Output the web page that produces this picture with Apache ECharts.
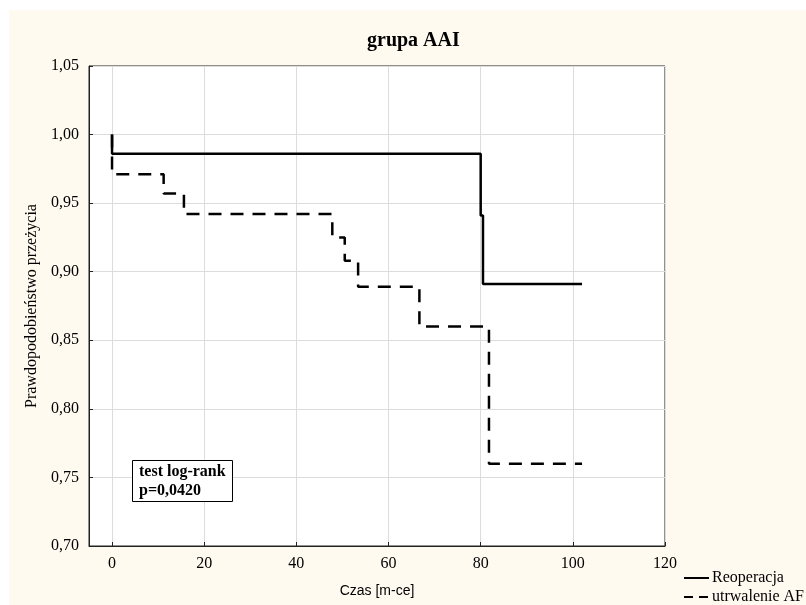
<!DOCTYPE html>
<html>
<head>
<meta charset="utf-8">
<script src="https://cdn.jsdelivr.net/npm/echarts@6/dist/echarts.min.js"></script>
<style>
  html, body { margin: 0; padding: 0; background: #ffffff; }
  #bg { position: absolute; left: 9px; top: 10px; width: 797px; height: 595px; background: #fffaf0; }
  #chart { position: absolute; left: 0; top: 0; width: 806px; height: 605px; }
</style>
</head>
<body>
<div id="bg"></div>
<div id="chart"></div>
<script>
// Data (Kaplan-Meier step curves)
const titleText = 'grupa AAI';
const xName = 'Czas [m-ce]';
const yName = 'Prawdopodobieństwo przeżycia';
const seriesNames = ['Reoperacja', 'utrwalenie AF'];
const reopTime = [0, 0, 80, 80.5, 102];
const reopSurv = [1.0, 0.986, 0.941, 0.891, 0.891];
const afTime = [0, 0, 11.2, 15.6, 47.8, 50.5, 53.4, 66.7, 81.8, 102];
const afSurv = [1.0, 0.971, 0.957, 0.942, 0.925, 0.908, 0.889, 0.860, 0.760, 0.760];
const xTicks = [0, 20, 40, 60, 80, 100, 120];
const yTicks = [0.70, 0.75, 0.80, 0.85, 0.90, 0.95, 1.00, 1.05];
const noteText = 'test log-rank\np=0,0420';

const serif = 'Liberation Serif';
const chart = echarts.init(document.getElementById('chart'), null, { renderer: 'canvas' });

function pairs(xs, ys) { return xs.map((x, i) => [x, ys[i]]); }

chart.setOption({
  backgroundColor: 'transparent',
  animation: false,
  title: [
    {
      text: titleText,
      left: 367, top: 31, padding: 0,
      textStyle: { fontFamily: serif, fontWeight: 'bold', fontSize: 20, color: '#000' }
    },
    {
      text: noteText,
      left: 132, top: 460,
      padding: [2, 7],
      borderColor: '#000', borderWidth: 1,
      backgroundColor: '#fff',
      textStyle: { fontFamily: serif, fontWeight: 'bold', fontSize: 16, lineHeight: 19, color: '#000' }
    }
  ],
  legend: {
    orient: 'vertical',
    left: 683, top: 570, padding: 0,
    itemWidth: 25, itemHeight: 14, itemGap: 3,
    itemStyle: { opacity: 0, borderWidth: 0 },
    textStyle: { fontFamily: serif, fontSize: 16, color: '#000', padding: [0, 0, 0, -2] },
    data: [
      { name: seriesNames[0] },
      { name: seriesNames[1], lineStyle: { type: [9, 6] } }
    ]
  },
  grid: {
    left: 89, top: 66, width: 576, height: 480,
    show: true, backgroundColor: '#ffffff', borderColor: '#222', borderWidth: 1
  },
  xAxis: {
    type: 'value', min: -5, max: 120,
    name: xName, nameLocation: 'middle', nameGap: 38,
    nameTextStyle: { fontFamily: 'Liberation Sans', fontSize: 14, color: '#000' },
    axisLine: { show: true, onZero: false, lineStyle: { color: '#222', width: 1 } },
    axisTick: { show: true, inside: true, length: 4, customValues: xTicks, lineStyle: { color: '#222' } },
    axisLabel: { customValues: xTicks, margin: 10, fontFamily: serif, fontSize: 16, color: '#000' },
    splitLine: { show: true, lineStyle: { color: '#dcdcdc', width: 1 } }
  },
  yAxis: {
    type: 'value', min: 0.70, max: 1.05, interval: 0.05,
    name: yName, nameLocation: 'middle', nameGap: 38,
    nameTextStyle: { fontFamily: serif, fontSize: 16, color: '#000' },
    axisLine: { show: true, onZero: false, lineStyle: { color: '#222', width: 1 } },
    axisTick: { show: true, inside: true, length: 4, customValues: yTicks, lineStyle: { color: '#222' } },
    axisLabel: {
      customValues: yTicks, margin: 10, fontFamily: serif, fontSize: 16, color: '#000',
      formatter: v => v.toFixed(2).replace('.', ',')
    },
    splitLine: { show: true, lineStyle: { color: '#dcdcdc', width: 1 } }
  },
  series: [
    {
      name: seriesNames[0], type: 'line', step: 'end', symbol: 'none',
      data: pairs(reopTime, reopSurv),
      lineStyle: { color: '#000', width: 2.5 },
      itemStyle: { color: '#000' }
    },
    {
      name: seriesNames[1], type: 'line', step: 'end', symbol: 'none',
      data: pairs(afTime, afSurv),
      lineStyle: { color: '#000', width: 2.5, type: [13, 9] },
      itemStyle: { color: '#000' }
    }
  ]
});
</script>
</body>
</html>
